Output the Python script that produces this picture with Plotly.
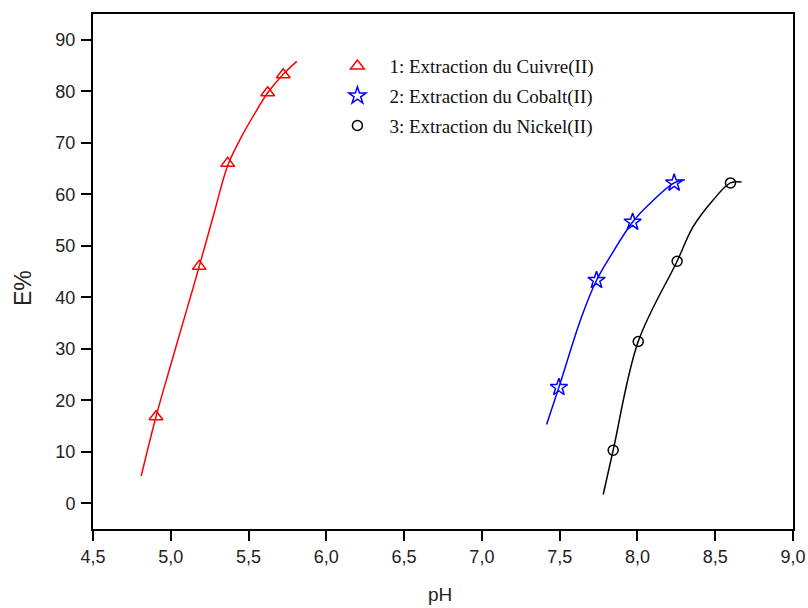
import plotly.graph_objects as go

# measured points
cu_ph = [4.905, 5.183, 5.366, 5.623, 5.723]
cu_e = [16.8, 46.0, 66.0, 79.7, 83.2]
co_ph = [7.495, 7.737, 7.969, 8.236]
co_e = [22.5, 43.3, 54.6, 62.2]
ni_ph = [7.844, 8.005, 8.255, 8.598]
ni_e = [10.3, 31.4, 47.0, 62.2]

# fitted curves
cu_fit_ph = [4.81, 4.905, 5.0, 5.1, 5.183, 5.28, 5.366, 5.45, 5.55, 5.623, 5.723, 5.81]
cu_fit_e = [5.3, 16.8, 26.9, 37.3, 46.0, 56.5, 65.6, 70.9, 76.2, 79.7, 83.3, 85.8]
co_fit_ph = [7.416, 7.495, 7.64, 7.737, 7.823, 7.969, 8.08, 8.236, 8.305]
co_fit_e = [15.3, 22.5, 36.1, 43.3, 47.8, 54.6, 58.2, 62.2, 62.8]
ni_fit_ph = [7.78, 7.844, 8.005, 8.255, 8.358, 8.487, 8.598, 8.669]
ni_fit_e = [1.7, 10.3, 31.4, 47.0, 53.7, 58.9, 62.2, 62.4]

x_ticks = [4.5, 5.0, 5.5, 6.0, 6.5, 7.0, 7.5, 8.0, 8.5, 9.0]
y_ticks = [0, 10, 20, 30, 40, 50, 60, 70, 80, 90]

names = ["1: Extraction du Cuivre(II)", "2: Extraction du Cobalt(II)", "3: Extraction du Nickel(II)"]
colors = ["#ff0000", "#0000ff", "#000000"]
symbols = ["triangle-up-open", "star-open", "circle-open"]
sizes = [12, 13, 10]

fig = go.Figure()
fits = [(cu_fit_ph, cu_fit_e), (co_fit_ph, co_fit_e), (ni_fit_ph, ni_fit_e)]
pts = [(cu_ph, cu_e), (co_ph, co_e), (ni_ph, ni_e)]
for (fx, fy), c in zip(fits, colors):
    fig.add_trace(go.Scatter(x=fx, y=fy, mode="lines", line=dict(color=c, width=1.5, shape="spline"),
                             showlegend=False, hoverinfo="skip"))
for i, ((px, py), c, s, sz, n) in enumerate(zip(pts, colors, symbols, sizes, names)):
    fig.add_trace(go.Scatter(x=px, y=py, mode="markers", name=n, legendgroup=f"g{i}",
                             marker=dict(symbol=s, size=sz, color=c, line=dict(color=c, width=1.5))))

tick_font = dict(family="Arial, Liberation Sans", size=18, color="#222")
axis_common = dict(showline=True, linecolor="black", linewidth=2, mirror=True,
                   ticks="outside", ticklen=10, tickwidth=2, tickcolor="black",
                   showgrid=False, zeroline=False, automargin=False,
                   tickfont=tick_font)
fig.update_layout(
    width=808, height=608,
    margin=dict(l=93, r=15, t=14, b=79),
    paper_bgcolor="white", plot_bgcolor="white",
    separators=", ",
    xaxis=dict(range=[4.5, 9.0], tickvals=x_ticks, tickformat=".1f", ticklabelstandoff=0, **axis_common),
    yaxis=dict(range=[-5, 95], tickvals=y_ticks, ticklabelstandoff=2, **axis_common),
    legend=dict(x=0.332, y=0.9355, xanchor="left", yanchor="top", bgcolor="rgba(0,0,0,0)",
                font=dict(family="Liberation Serif, Times New Roman", size=19, color="#111"),
                itemwidth=54, tracegroupgap=2),
    showlegend=True,
    annotations=[
        dict(text="E%", x=-0.1, y=0.468, xref="paper", yref="paper", showarrow=False,
             textangle=-90, xanchor="center", yanchor="middle",
             font=dict(family="Arial, Liberation Sans", size=23, color="#222")),
        dict(text="pH", x=0.496, y=-0.128, xref="paper", yref="paper", showarrow=False,
             xanchor="center", yanchor="middle",
             font=dict(family="Arial, Liberation Sans", size=19, color="#222")),
    ],
)
fig.write_html("out.html", config={"displayModeBar": False},
               post_script="document.body.style.margin='0';document.body.style.overflow='hidden';")
